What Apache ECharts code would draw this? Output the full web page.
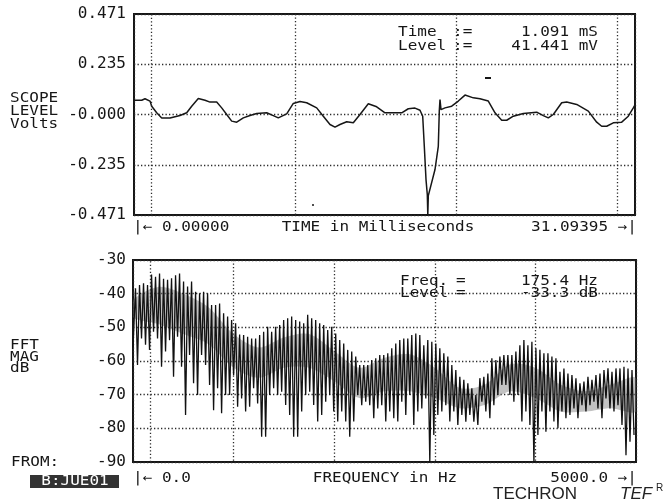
<!DOCTYPE html>
<html><head><meta charset="utf-8">
<script src="https://cdn.jsdelivr.net/npm/echarts@6/dist/echarts.min.js"></script>
<style>html,body{margin:0;padding:0;background:#fff}#c{width:669px;height:503px}</style>
</head><body><div id="c"></div>
<script>
// ---------- DATA ----------
const timeMs = [0,0.478,0.683,0.993,1.099,1.409,1.719,2.234,2.855,3.271,3.581,3.991,4.407,4.717,5.133,5.443,5.753,6.064,6.374,6.784,7.199,7.615,8.236,8.645,8.956,9.477,9.887,10.303,10.718,11.339,11.749,12.164,12.475,12.785,13.201,13.611,14.026,14.542,15.063,15.578,15.888,16.615,17.024,17.440,17.750,17.918,18.017,18.123,18.204,18.234,18.266,18.681,18.886,18.948,18.992,19.054,19.302,19.718,20.128,20.543,21.058,21.474,21.989,22.405,22.820,23.131,23.541,24.161,24.993,25.403,25.713,26.024,26.545,26.855,27.476,28.196,28.717,29.027,29.338,29.747,30.268,30.679,30.989,31.094];
const levelV = [0.067,0.067,0.074,0.063,0.039,0.008,-0.016,-0.016,-0.005,0.008,0.039,0.075,0.067,0.058,0.059,0.031,0.000,-0.031,-0.036,-0.016,-0.005,0.005,0.008,-0.005,-0.016,0.003,0.052,0.061,0.055,0.031,-0.008,-0.047,-0.059,-0.047,-0.034,-0.039,0.000,0.050,0.036,0.008,0.008,0.008,0.027,0.030,0.020,-0.008,-0.149,-0.305,-0.376,-0.471,-0.380,-0.258,-0.149,0.016,0.070,0.023,0.031,0.039,0.063,0.091,0.078,0.074,0.063,0.008,-0.027,-0.027,-0.008,0.005,0.011,-0.005,-0.016,0.000,0.055,0.059,0.047,0.016,-0.036,-0.055,-0.055,-0.039,-0.036,-0.008,0.031,0.045];

const fftStartHz = 25;      // first spectral line
const fftStepHz = 39.8;     // spacing of spectral lines
const fftEdgeDb = -56;      // level at 0 Hz
const fftPeakDb = [-38.4,-37.4,-36.9,-37.4,-34.3,-35.0,-34.0,-35.6,-35.9,-35.4,
 -34.5,-34.0,-36.4,-37.9,-36.4,-39.4,-39.9,-39.4,-39.9,-43.4,
 -43.4,-42.9,-45.8,-46.8,-47.8,-48.8,-52.1,-52.3,-52.8,-53.3,
 -53.3,-52.3,-51.3,-49.8,-51.3,-49.8,-49.3,-47.8,-47.3,-46.8,
 -47.8,-48.3,-48.8,-46.3,-47.3,-47.8,-48.8,-49.3,-50.8,-49.8,
 -51.8,-53.8,-54.8,-56.7,-57.2,-58.7,-61.2,-61.2,-61.2,-59.7,
 -59.2,-58.2,-58.2,-57.7,-56.2,-54.8,-53.8,-53.3,-53.3,-52.3,
 -51.8,-52.3,-55.3,-53.8,-54.3,-54.8,-56.2,-57.7,-58.7,-61.2,
 -62.7,-64.7,-65.6,-66.6,-68.1,-70.1,-65.1,-64.7,-63.7,-59.2,
 -59.7,-58.7,-58.2,-58.2,-58.2,-57.2,-55.3,-53.8,-55.3,-54.3,
 -56.2,-56.7,-57.7,-57.7,-58.7,-59.2,-63.2,-62.2,-63.7,-64.2,
 -65.1,-66.6,-66.1,-64.7,-65.6,-64.2,-63.7,-62.7,-62.2,-63.2,
 -62.2,-62.2,-61.7,-62.2,-62.7];
const fftNullDb = [-61.2,-53.3,-55.2,-56.7,-51.3,-53.3,-61.7,-57.2,-53.8,-64.7,
 -52.8,-61.7,-76.0,-58.2,-66.6,-70.1,-58.2,-61.2,-67.1,-74.6,
 -68.1,-75.5,-70.1,-70.1,-64.2,-73.6,-71.1,-75.0,-73.6,-68.1,
 -72.6,-82.5,-82.5,-70.1,-68.1,-70.1,-69.1,-73.1,-76.0,-82.5,
 -82.5,-75.0,-70.1,-69.1,-73.1,-78.0,-76.0,-72.1,-70.1,-75.0,
 -78.0,-75.0,-78.0,-82.5,-78.0,-70.1,-73.1,-72.1,-73.1,-77.0,
 -74.1,-73.1,-78.0,-75.0,-77.0,-78.0,-72.1,-76.0,-70.1,-79.0,
 -75.0,-74.1,-71.1,-90.0,-82.0,-76.0,-75.0,-73.1,-78.0,-75.0,
 -79.0,-76.0,-78.0,-76.0,-78.0,-79.0,-72.1,-75.0,-77.0,-73.1,
 -70.1,-67.1,-67.1,-70.1,-72.1,-70.1,-78.0,-75.0,-79.0,-90.0,
 -82.0,-75.0,-81.0,-75.0,-78.0,-80.0,-75.0,-77.0,-76.0,-74.1,
 -77.0,-73.1,-75.0,-73.1,-72.1,-74.1,-77.0,-71.1,-74.1,-75.0,
 -73.1,-79.0,-88.0,-84.0,-82.0];

// grey hatched band (dense fine structure) read every 250 Hz
const bandHz    = [0,250,500,750,1000,1250,1500,1750,2000,2250,2500,2750,3000,3250,3500,3750,4000,4250,4500,4750,5000];
const bandTopDb = [-42,-38,-40,-44,-52,-56,-53,-52,-57,-62,-59,-58,-62,-68,-67,-61,-62,-67,-69,-67,-65];
const bandBotDb = [-47,-49,-52,-55,-62,-65,-62,-62,-66,-71,-69,-69,-71,-74,-73,-69,-71,-75,-75,-74,-75];

const scopeTicks = ['-0.471','-0.235','-0.000','0.235','0.471'];
const fftTicks = ['-90','-80','-70','-60','-50','-40','-30'];
const timeCursorMs = 1.091, timeSpanMs = 31.09395;
const freqCursorHz = 175.4, freqSpanHz = 5000;

// ---------- BUILD ----------
const scopeData = timeMs.map((t,i)=>[t, levelV[i]]);
const fftData = [[0, fftEdgeDb]];
fftPeakDb.forEach((p,i)=>{
  const f = fftStartHz + i*fftStepHz;
  fftData.push([f, p]);
  fftData.push([f + fftStepHz/2, fftNullDb[i]]);
});
const bandData = bandHz.map((f,i)=>[f, bandTopDb[i], bandBotDb[i]]);

const MONO = 'DejaVu Sans Mono';
const INK = '#161616';
const dot = {color:'#2a2a2a', width:1.3, type:[1.3,2.2]};

function T(text, x, y, align, style, sy){
  return {type:'text', x:x, y:y, scaleY:(sy==null?0.9:sy), silent:true, z:10,
    style:Object.assign({text:text, fill:INK, font:'16px "'+MONO+'"',
      textAlign:align||'left', textVerticalAlign:'middle', align:align||'left', verticalAlign:'middle'}, style||{})};
}

const chart = echarts.init(document.getElementById('c'), null, {renderer:'canvas'});
chart.setOption({
  animation:false,
  backgroundColor:'#ffffff',
  grid:[
    {left:134, top:14, width:501, height:201, show:true, borderColor:INK, borderWidth:2, backgroundColor:'transparent'},
    {left:133, top:260, width:503, height:202, show:true, borderColor:INK, borderWidth:2, backgroundColor:'transparent'}
  ],
  xAxis:[
    {gridIndex:0, type:'value', min:0, max:timeSpanMs, interval:10, axisLine:{show:false}, axisTick:{show:false}, axisLabel:{show:false}, splitLine:{show:true, lineStyle:dot}},
    {gridIndex:1, type:'value', min:0, max:freqSpanHz, interval:1000, axisLine:{show:false}, axisTick:{show:false}, axisLabel:{show:false}, splitLine:{show:true, lineStyle:dot}}
  ],
  yAxis:[
    {gridIndex:0, type:'value', min:-0.471, max:0.471, interval:0.2355, axisLine:{show:false}, axisTick:{show:false},
      splitLine:{show:true, lineStyle:dot},
      axisLabel:{margin:8, color:INK, fontFamily:MONO, fontSize:16,
        formatter:v=>scopeTicks[Math.round((v+0.471)/0.2355)]||''}},
    {gridIndex:1, type:'value', min:-90, max:-30, interval:10, axisLine:{show:false}, axisTick:{show:false},
      splitLine:{show:true, lineStyle:dot},
      axisLabel:{margin:7, color:INK, fontFamily:MONO, fontSize:16,
        formatter:v=>fftTicks[Math.round((v+90)/10)]||''}}
  ],
  series:[
    {type:'line', xAxisIndex:0, yAxisIndex:0, data:scopeData, showSymbol:false, silent:true,
      lineStyle:{color:INK, width:1.5},
      markLine:{silent:true, symbol:'none', label:{show:false}, lineStyle:dot, data:[{xAxis:timeCursorMs}]}},
    {type:'custom', xAxisIndex:1, yAxisIndex:1, data:bandData, silent:true, clip:true,
      encode:{x:0, y:[1,2]},
      renderItem:function(params, api){
        if (params.dataIndex !== 0) return null;
        const top = bandData.map(d=>api.coord([d[0], d[1]]));
        const bot = bandData.map(d=>api.coord([d[0], d[2]])).reverse();
        return {type:'polygon', shape:{points:top.concat(bot), smooth:0.3}, style:{fill:'rgba(120,120,120,0.45)'}};
      }},
    {type:'line', xAxisIndex:1, yAxisIndex:1, data:fftData, showSymbol:false, silent:true,
      lineStyle:{color:'#111111', width:1.3},
      markLine:{silent:true, symbol:'none', label:{show:false}, lineStyle:dot, data:[{xAxis:freqCursorHz}]}}
  ],
  graphic:[
    T('SCOPE',10,98.5), T('LEVEL',10,111.5), T('Volts',10,124),
    T('|\u2190 0.00000',133,227), T('TIME in Milliseconds',378,227,'center'), T('31.09395 \u2192|',637,227,'right'),
    T('Time',398,32.5), T(':=',453,32.5), T('1.091 mS',598,32.5,'right'),
    T('Level',398,46), T(':=',453,46), T('41.441 mV',598,46,'right'),
    T('Freq.',400,281), T('=',456,281), T('175.4 Hz',598,281,'right'),
    T('Level',400,293), T('=',456,293), T('-33.3 dB',598,293,'right'),
    T('FFT',10,345), T('MAG',10,357), T('dB',10,368.5),
    T('FROM:',11,462),
    {type:'rect', shape:{x:30,y:475,width:89,height:13}, style:{fill:'#333333'}, silent:true, z:9},
    T('B:JUE01',75,481.5,'center',{fill:'#ffffff'}),
    T('|\u2190 0.0',133,478), T('FREQUENCY in Hz',385,478,'center'), T('5000.0 \u2192|',637,478,'right'),
    T('TECHRON',493,494,'left',{font:'17px "Liberation Sans"', fill:'#222'},1),
    T('TEF',620,494,'left',{font:'italic 17px "Liberation Sans"', fill:'#222'},1),
    T('R',656,488,'left',{font:'10px "Liberation Sans"', fill:'#222'},1),
    {type:'rect', shape:{x:485,y:77,width:6,height:2}, style:{fill:INK}, silent:true},
    {type:'circle', shape:{cx:313,cy:205,r:1}, style:{fill:INK}, silent:true}
  ]
});
</script></body></html>
